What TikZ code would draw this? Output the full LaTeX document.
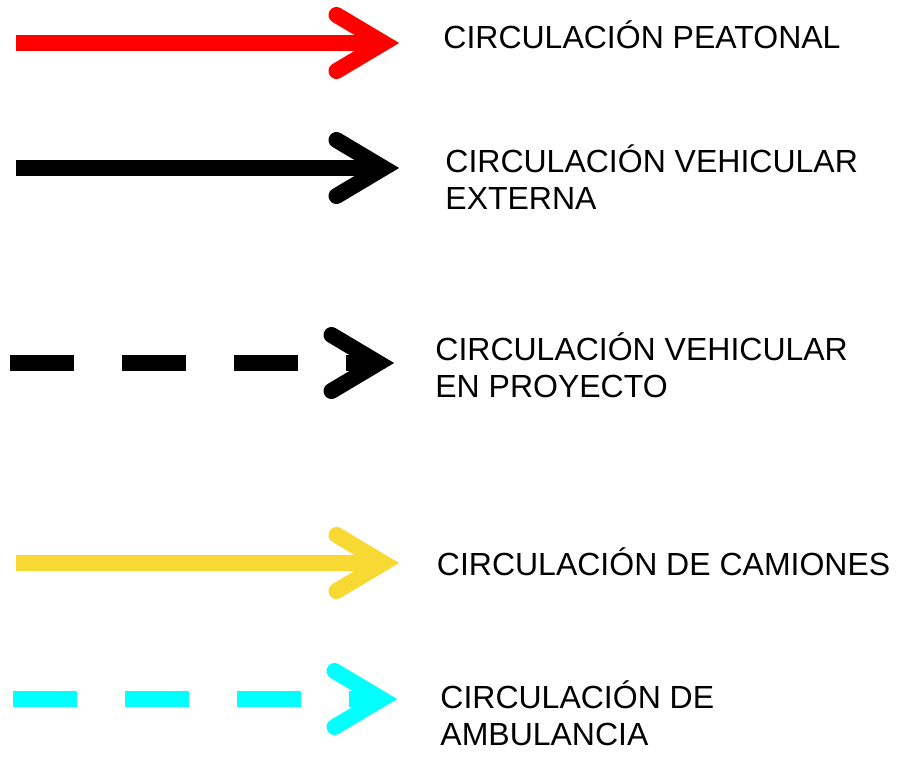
\documentclass[tikz,border=0pt]{standalone}
\usepackage{fontspec}
\setmainfont{Liberation Sans}
\definecolor{truckyellow}{RGB}{248,216,50}
\definecolor{ambcyan}{RGB}{0,255,255}
\tikzstyle{flow}=[line width = 8pt]
\tikzstyle{barb}=[line width = 8pt, line cap=round, line join=miter]
\tikzstyle{broken}=[dash pattern=on 32pt off 24pt]
\tikzstyle{legend}=[anchor=base west, inner sep=0pt, align=left, font=\fontsize{16pt}{18.5pt}\selectfont]

\begin{document}
\begin{tikzpicture}[x=0.5pt, y=-0.5pt]
				\useasboundingbox (0,0) rectangle (899,756);

				% line ends
				\coordinate (peatl) at (16,43);
				\coordinate (peatr) at (383.5,43);
				\coordinate (extl) at (16,168);
				\coordinate (extr) at (383.5,168);
				\coordinate (proyl) at (10,363);
				\coordinate (proyr) at (378.5,363);
				\coordinate (caml) at (16,563);
				\coordinate (camr) at (383.5,563);
				\coordinate (ambl) at (13,699);
				\coordinate (ambr) at (381.5,699);

				\draw[flow, red] (peatl) -- (peatr);
				\draw[barb, red] ([shift={(-47,-28)}]peatr) -- (peatr) -- ([shift={(-47,28)}]peatr);

				\draw[flow, black] (extl) -- (extr);
				\draw[barb, black] ([shift={(-47,-28)}]extr) -- (extr) -- ([shift={(-47,28)}]extr);

				\draw[flow, broken, black] (proyl) -- (proyr);
				\draw[barb, black] ([shift={(-47,-28)}]proyr) -- (proyr) -- ([shift={(-47,28)}]proyr);

				\draw[flow, truckyellow] (caml) -- (camr);
				\draw[barb, truckyellow] ([shift={(-47,-28)}]camr) -- (camr) -- ([shift={(-47,28)}]camr);

				\draw[flow, broken, ambcyan] (ambl) -- (ambr);
				\draw[barb, ambcyan] ([shift={(-47,-28)}]ambr) -- (ambr) -- ([shift={(-47,28)}]ambr);

				% labels (base = last line)
				\node[legend] (peat) at (443,48) {CIRCULACIÓN PEATONAL};
				\node[legend] (ext) at (445,209) {CIRCULACIÓN VEHICULAR\\EXTERNA};
				\node[legend] (proy) at (435,397.5) {CIRCULACIÓN VEHICULAR\\EN PROYECTO};
				\node[legend] (cam) at (436.5,575) {CIRCULACIÓN DE CAMIONES};
				\node[legend] (amb) at (440,745) {CIRCULACIÓN DE\\AMBULANCIA};
			\end{tikzpicture}
\end{document}
